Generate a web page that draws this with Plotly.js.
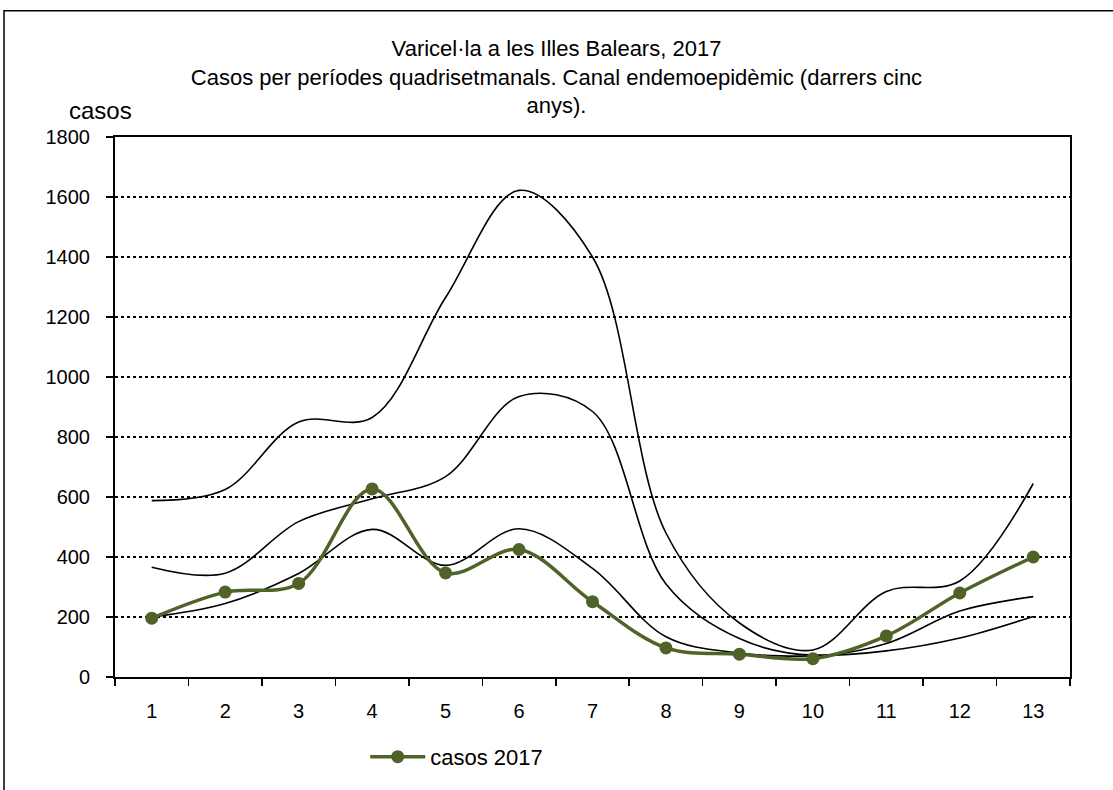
<!DOCTYPE html>
<html>
<head>
<meta charset="utf-8">
<script src="https://cdn.plot.ly/plotly-3.0.1.min.js"></script>
<style>
  html, body { margin: 0; padding: 0; background: #ffffff; }
  #chart { width: 1113px; height: 790px; }
</style>
</head>
<body>
<div id="chart"></div>
<script>
// Four-week periods
const categories = ['1','2','3','4','5','6','7','8','9','10','11','12','13'];

// Endemic channel (last five years) - three reference curves
const upperCurve  = [588, 625, 850, 865, 1265, 1622, 1400, 480, 180, 90, 285, 320, 645];
const middleCurve = [366, 346, 518, 594, 668, 935, 885, 310, 128, 73, 112, 220, 268];
const lowerCurve  = [200, 245, 345, 492, 372, 494, 362, 134, 80, 70, 87, 130, 202];

// Cases 2017
const cases2017 = [196, 283, 312, 627, 347, 425, 251, 97, 76, 61, 137, 280, 400];

const yTicks = [0, 200, 400, 600, 800, 1000, 1200, 1400, 1600, 1800];

const fontFamily = '"Liberation Sans", Arial, sans-serif';

function blackLine(values) {
  return {
    x: categories, y: values, type: 'scatter', mode: 'lines',
    line: { color: '#000000', width: 1.6, shape: 'spline', smoothing: 1 },
    showlegend: false, hoverinfo: 'skip'
  };
}

const traces = [
  blackLine(upperCurve),
  blackLine(middleCurve),
  blackLine(lowerCurve),
  {
    x: categories, y: cases2017, type: 'scatter', mode: 'lines+markers',
    name: 'casos 2017',
    line: { color: '#4F6228', width: 3.5, shape: 'spline', smoothing: 1 },
    marker: { color: '#4F6228', size: 13, symbol: 'circle' }
  }
];

const layout = {
  width: 1113, height: 790,
  margin: { l: 115, r: 43, t: 137, b: 110 },
  paper_bgcolor: '#ffffff', plot_bgcolor: '#ffffff',
  font: { family: fontFamily, size: 20, color: '#000000' },
  title: {
    text: 'Varicel·la a les Illes Balears, 2017<br>Casos per períodes quadrisetmanals. Canal endemoepidèmic (darrers cinc<br>anys).',
    font: { family: fontFamily, size: 22, color: '#000000' },
    xref: 'container', x: 0.5, xanchor: 'center',
    yref: 'container', y: 0.929, yanchor: 'top'
  },
  xaxis: {
    type: 'category',
    showgrid: false, zeroline: false,
    showline: true, linecolor: '#000000', linewidth: 2, mirror: true,
    ticks: 'outside', ticklen: 7, tickwidth: 1.5, tickcolor: '#000000',
    tickson: 'boundaries',
    ticklabelstandoff: 15,
    tickfont: { family: fontFamily, size: 20, color: '#000000' },
    range: [-0.5, 12.5]
  },
  yaxis: {
    range: [0, 1800],
    tickvals: yTicks,
    showgrid: true, gridcolor: '#000000', griddash: 'dot', gridwidth: 1.2,
    zeroline: false,
    showline: true, linecolor: '#000000', linewidth: 2, mirror: true,
    ticks: 'outside', ticklen: 7, tickwidth: 1.5, tickcolor: '#000000',
    ticklabelstandoff: 12,
    tickfont: { family: fontFamily, size: 20, color: '#000000' }
  },
  showlegend: true,
  legend: {
    x: 0.262, xanchor: 'left', y: -0.148, yanchor: 'middle',
    orientation: 'h',
    itemwidth: 55,
    font: { family: fontFamily, size: 22, color: '#000000' },
    bgcolor: 'rgba(0,0,0,0)'
  },
  annotations: [{
    text: 'casos', xref: 'paper', yref: 'paper',
    x: -0.0157, y: 1.049, xanchor: 'center', yanchor: 'middle',
    showarrow: false,
    font: { family: fontFamily, size: 24, color: '#000000' }
  }],
  shapes: [{
    type: 'rect', xref: 'paper', yref: 'paper',
    x0: -0.1162, x1: 1.06, y0: -0.25, y1: 1.2339,
    line: { color: '#000000', width: 1.5 }, fillcolor: 'rgba(0,0,0,0)', layer: 'below'
  }]
};

Plotly.newPlot('chart', traces, layout, { displayModeBar: false, staticPlot: true });
</script>
</body>
</html>
